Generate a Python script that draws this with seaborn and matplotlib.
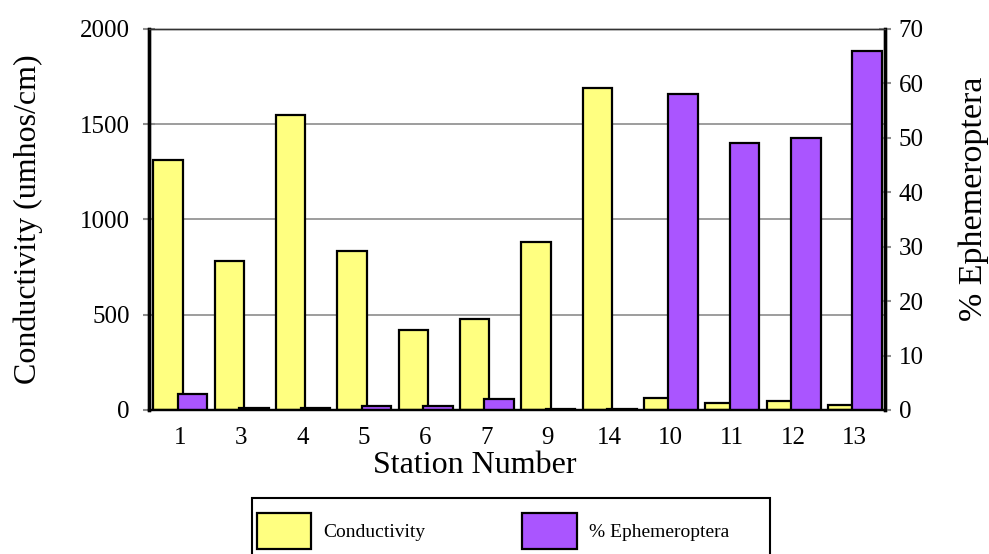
import numpy as np
import pandas as pd
import matplotlib
matplotlib.use("Agg")
import matplotlib.pyplot as plt
import seaborn as sns
from matplotlib.patches import Patch, Rectangle

stations = ["1", "3", "4", "5", "6", "7", "9", "14", "10", "11", "12", "13"]
conductivity = [1310, 784, 1551, 836, 418, 479, 880, 1690, 64, 38, 49, 26]
ephemeroptera = [3, 0.3, 0.3, 0.8, 0.7, 2, 0.2, 0.2, 58, 49, 50, 66]

YELLOW = "#FFFF80"
PURPLE = "#AA55FF"
GRID = "#8C8C8C"

sns.set_style("white")
plt.rcParams["font.family"] = ["Liberation Serif", "DejaVu Serif"]
plt.rcParams["text.color"] = "black"
plt.rcParams["axes.labelcolor"] = "black"

df = pd.DataFrame({"station": stations, "cond": conductivity, "eph": ephemeroptera})

fig = plt.figure(figsize=(9.89, 5.54), dpi=100)
ax = fig.add_axes([0.1507, 0.26, 0.7441, 0.6877])
ax2 = ax.twinx()

sns.barplot(data=df, x="station", y="cond", order=stations, color=YELLOW,
            saturation=1, edgecolor="black", linewidth=1.6, width=0.48,
            errorbar=None, ax=ax)
for p in ax.patches:
    p.set_x(p.get_x() - 0.19)

sns.barplot(data=df, x="station", y="eph", order=stations, color=PURPLE,
            saturation=1, edgecolor="black", linewidth=1.6, width=0.48,
            errorbar=None, ax=ax2)
for p in ax2.patches:
    p.set_x(p.get_x() + 0.21)

ax.set_xlim(-0.5, len(stations) - 0.5)
ax.set_ylim(0, 2000)
ax2.set_ylim(0, 70)

# gridlines on left axis
ax.set_yticks([0, 500, 1000, 1500, 2000])
ax.yaxis.grid(True, color=GRID, linewidth=1.2)
ax.set_axisbelow(True)
ax2.set_yticks(range(0, 71, 10))

# x ticks: labels at centres, marks between categories
ax.set_xticks(range(len(stations)))
ax.set_xticklabels(stations)
ax.set_xticks(np.arange(-0.5, len(stations)), minor=True)
ax.tick_params(axis="x", which="major", length=0, pad=12, labelsize=18,
               labelcolor="black")
ax.tick_params(axis="x", which="minor", length=10, width=2, color=GRID,
               direction="inout")
ax.tick_params(axis="y", length=8, width=1.5, color=GRID, direction="inout",
               pad=10, labelsize=18, labelcolor="black")
ax2.tick_params(axis="y", length=8, width=1.5, color=GRID, direction="inout",
                pad=6, labelsize=18, labelcolor="black")

for a in (ax, ax2):
    a.spines["left"].set_linewidth(2.4)
    a.spines["right"].set_linewidth(2.4)
    a.spines["bottom"].set_linewidth(1.6)
    a.spines["top"].set_linewidth(1.0)
    a.spines["top"].set_color("#333333")
    for s in ("left", "right", "bottom"):
        a.spines[s].set_color("black")

ax.set_xlabel("Station Number", fontsize=23)
ax.xaxis.set_label_coords(0.443, -0.108)
ax.set_ylabel("Conductivity (umhos/cm)", fontsize=23)
ax.yaxis.set_label_coords(-0.144, 0.5)
ax2.set_ylabel("% Ephemeroptera", fontsize=24.5, rotation=90)
ax2.yaxis.set_label_coords(1.1, 0.554)

# legend: entries without frame, plus a separate box like the original
handles = [
    Patch(facecolor=YELLOW, edgecolor="black", linewidth=1.6, label="Conductivity"),
    Patch(facecolor=PURPLE, edgecolor="black", linewidth=1.6, label="% Ephemeroptera"),
]
fig.legend(handles=handles, loc="center left", ncol=2,
           bbox_to_anchor=(257 / 989, 23 / 554), fontsize=14,
           handlelength=2.8, handleheight=2.5, handletextpad=0.6,
           columnspacing=5.0, borderpad=0, borderaxespad=0, frameon=False)
fig.add_artist(Rectangle((252 / 989, -0.02), 518 / 989, 0.02 + 56 / 554,
                         transform=fig.transFigure, facecolor="none",
                         edgecolor="black", linewidth=1.5))

fig.savefig("out.png", dpi=100)
